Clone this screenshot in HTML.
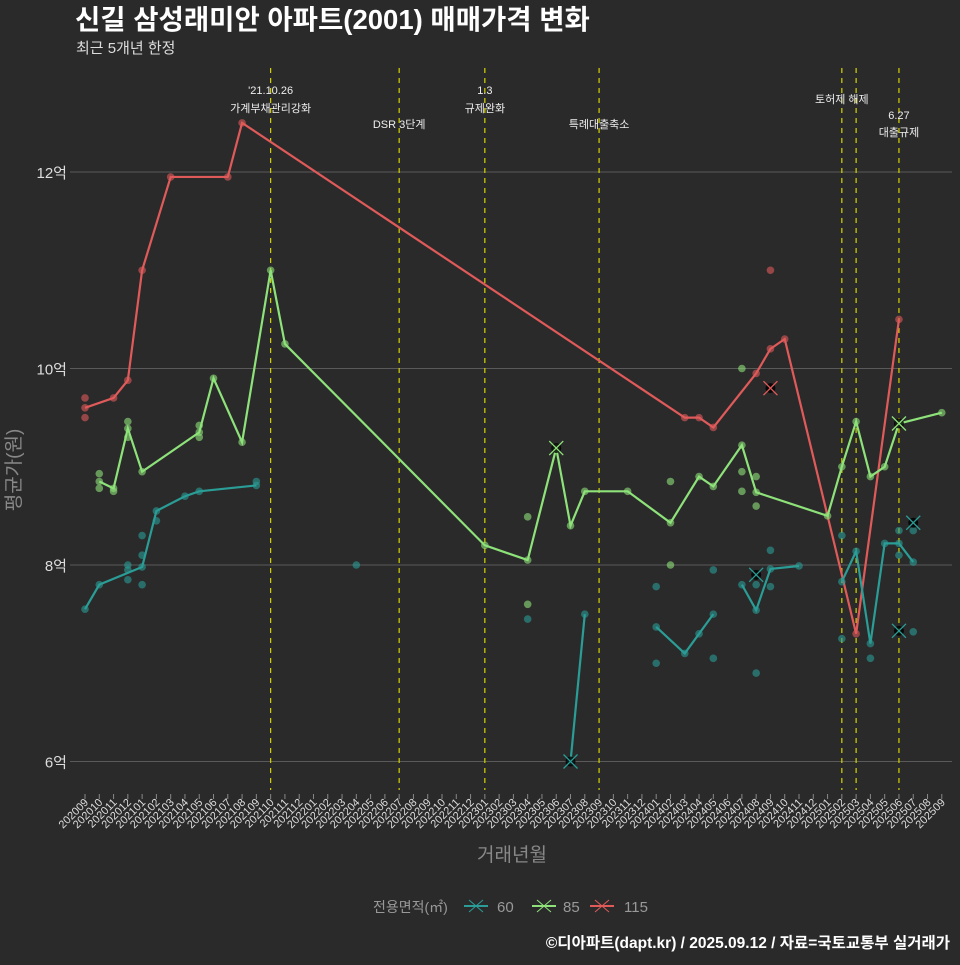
<!DOCTYPE html>
<html><head><meta charset="utf-8">
<style>
body{margin:0;background:#2a2a2a;}
svg text{font-family:"Liberation Sans","Noto Sans CJK KR",sans-serif;}
</style></head>
<body>
<svg id="c" width="960" height="960" xmlns="http://www.w3.org/2000/svg">
<rect width="960" height="960" fill="#2a2a2a"/>
<text x="75" y="29" fill="#fff" font-size="27.5" font-weight="bold">신길 삼성래미안 아파트(2001) 매매가격 변화</text>
<text x="76" y="53" fill="#ddd" font-size="15">최근 5개년 한정</text>
<g id="grid"></g><g id="vlines"></g><g id="lines"></g><g id="pts"></g><g id="xt"></g>
<text transform="translate(20,470) rotate(-90)" text-anchor="middle" fill="#888" font-size="19">평균가(원)</text>
<text x="512" y="861" text-anchor="middle" fill="#888" font-size="19">거래년월</text>
<g font-size="15">
<text x="373" y="912" fill="#999" font-size="14">전용면적(㎡)</text>
<g><line x1="464" y1="906" x2="488" y2="906" stroke="#2a9d96" stroke-width="2"/><path d="M469 900l14 12M483 900l-14 12" stroke="#2a9d96"/><text x="497" y="912" fill="#999">60</text></g>
<g><line x1="532" y1="906" x2="556" y2="906" stroke="#8ee27a" stroke-width="2"/><path d="M537 900l14 12M551 900l-14 12" stroke="#8ee27a"/><text x="563" y="912" fill="#999">85</text></g>
<g><line x1="590" y1="906" x2="614" y2="906" stroke="#e05a5a" stroke-width="2"/><path d="M595 900l14 12M609 900l-14 12" stroke="#e05a5a"/><text x="624" y="912" fill="#999">115</text></g>
</g>
<text x="950" y="948" text-anchor="end" fill="#fff" font-size="15.5" font-weight="bold">©디아파트(dapt.kr) / 2025.09.12 / 자료=국토교통부 실거래가</text>
</svg>
<script>
const yTicks=[6,8,10,12];
const yTickLabels=["6억","8억","10억","12억"];
const eventIdx=[13,22,28,36,53,54,57];
const red115=[[0,9.6],[2,9.7],[3,9.88],[4,11.0],[6,11.95],[10,11.95],[11,12.5],[42,9.5],[43,9.5],[44,9.4],[47,9.95],[48,10.2],[49,10.3],[54,7.3],[57,10.5]];
const green85=[[1,8.85],[2,8.78],[3,9.39],[4,8.95],[8,9.35],[9,9.9],[11,9.25],[13,11.0],[14,10.25],[28,8.2],[31,8.05],[33,9.19],[34,8.4],[35,8.75],[38,8.75],[41,8.43],[43,8.9],[44,8.8],[46,9.22],[47,8.74],[52,8.5],[53,9.0],[54,9.46],[55,8.9],[56,9.0],[57,9.44],[60,9.55]];
const teal60a=[[0,7.55],[1,7.8],[4,7.98],[5,8.55],[7,8.7],[8,8.75],[12,8.81]];
const teal60b=[[34,6.0],[35,7.5]];
const teal60c=[[40,7.37],[42,7.1],[43,7.3],[44,7.5]];
const teal60d=[[46,7.8],[47,7.54],[48,7.96],[50,7.99]];
const teal60e=[[53,7.83],[54,8.14],[55,7.2],[56,8.22],[57,8.22],[58,8.03]];
const redExtra=[[0,9.7],[0,9.5],[48,11.0]];
const greenExtra=[[1,8.93],[1,8.78],[2,8.75],[3,9.46],[3,9.3],[8,9.42],[8,9.3],[31,8.49],[31,7.6],[41,8.85],[41,8.0],[46,8.95],[46,8.75],[46,10.0],[47,8.9],[47,8.6]];
const tealExtra=[[19,8.0],[5,8.45],[4,8.3],[4,8.1],[3,8.0],[3,7.95],[3,7.85],[4,7.8],[12,8.85],[31,7.45],[40,7.78],[40,7.0],[44,7.05],[44,7.95],[48,8.15],[48,7.78],[47,6.9],[47,7.8],[53,8.3],[53,7.25],[55,7.05],[57,8.35],[57,8.1],[58,8.35],[58,7.32]];
const xMarks=[[33,9.19,"#8ee27a"],[57,9.44,"#8ee27a"],[48,9.8,"#e05a5a"],[47,7.9,"#2a9d96"],[34,6.0,"#2a9d96"],[58,8.43,"#2a9d96"],[57,7.33,"#2a9d96"]];
const annotations=[[13,"'21.10.26",90],[13,"가계부채관리강화",108],[22,"DSR 3단계",124],[28,"1.3",90],[28,"규제완화",108],[36,"특례대출축소",124],[53,"토허제 해제",99],[57,"6.27",115],[57,"대출규제",132]];
const startYear=2020,startMonth=9,nMonths=61;
const X=i=>85+i*14.28, Y=v=>565-(v-8)*98.25;
const NS="http://www.w3.org/2000/svg";
function mk(tag,parent,attrs){const e=document.createElementNS(NS,tag);for(const k in attrs)e.setAttribute(k,attrs[k]);document.getElementById(parent).appendChild(e);return e;}
yTicks.forEach((t,k)=>{
 const l=mk('line','grid',{x1:70,x2:952,y1:Y(t),y2:Y(t),stroke:'#5a5a5a','stroke-width':1});
 
 
 const tx=mk('text','grid',{x:67,y:Y(t)+6,'text-anchor':'end',fill:'#ddd','font-size':15});
 tx.textContent=yTickLabels[k];
 
 
});
eventIdx.forEach(i=>{
 const l=mk('line','vlines',{x1:X(i),x2:X(i),y1:68,y2:790,stroke:'#d4d400','stroke-width':1.2,'stroke-dasharray':'5,5'});
 
 
});
annotations.forEach(a=>{
 const t=mk('text','vlines',{x:X(a[0]),y:a[2]+4,'text-anchor':'middle',fill:'#eee','font-size':11});
 t.textContent=a[1];
 
 
});
for(let i=0;i<nMonths;i++){
 const m=(startMonth-1+i)%12+1, yr=startYear+Math.floor((startMonth-1+i)/12);
 const lab=''+yr+(m<10?'0':'')+m;
 const tk=mk('line','xt',{x1:X(i),x2:X(i),y1:794,y2:799,stroke:'#888'});
 
 
 const t=mk('text','xt',{x:X(i)+4,y:803,'text-anchor':'end',fill:'#ddd','font-size':11,transform:`rotate(-45 ${X(i)+4} 803)`});
 t.textContent=lab;
 
 
}
function line(data,col,name){
 const p=mk('polyline','lines',{points:data.map(d=>X(d[0])+','+Y(d[1])).join(' '),fill:'none',stroke:col,'stroke-width':2.2});
 
 
 data.forEach(d=>{const c=mk('circle','pts',{cx:X(d[0]),cy:Y(d[1]),r:3.8,fill:col,opacity:0.6});
  
  });
}
function pts(data,col,name){data.forEach(d=>{const c=mk('circle','pts',{cx:X(d[0]),cy:Y(d[1]),r:3.8,fill:col,opacity:0.6});
 
 });}
line(red115,'#e05a5a','line-115');
line(green85,'#8ee27a','line-85');
[teal60a,teal60b,teal60c,teal60d,teal60e].forEach(s=>line(s,'#2a9d96','line-60'));
pts(redExtra,'#e05a5a','point-115');
pts(greenExtra,'#8ee27a','point-85');
pts(tealExtra,'#2a9d96','point-60');
xMarks.forEach(d=>{const x=X(d[0]),y=Y(d[1]);
 const c=mk('circle','pts',{cx:x,cy:y,r:5,fill:'#000',opacity:0.8});
 
 
 const p=mk('path','pts',{d:`M${x-7} ${y-7}L${x+7} ${y+7}M${x+7} ${y-7}L${x-7} ${y+7}`,stroke:d[2],'stroke-width':1.3});
 
 });
</script>
</body></html>
